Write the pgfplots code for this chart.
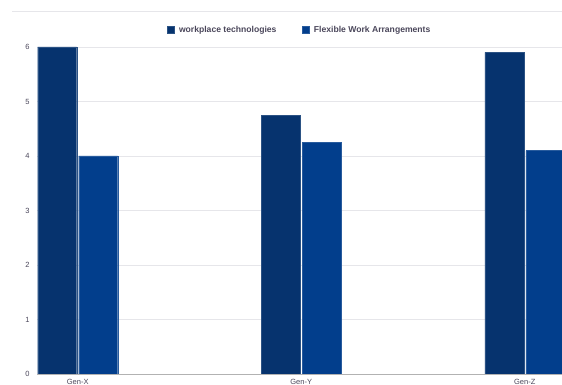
\documentclass[border=0pt]{standalone}
\usepackage{pgfplots}
\pgfplotsset{compat=1.18}
\usepackage{fontspec}
\setmainfont{Liberation Sans}
\definecolor{darknavy}{RGB}{6,51,110}
\definecolor{midblue}{RGB}{2,62,140}
\definecolor{gridc}{RGB}{230,230,234}
\definecolor{txtc}{RGB}{74,70,90}
\begin{document}
\begin{tikzpicture}[x=1pt,y=1pt]
\useasboundingbox (-37,-11) rectangle (525,374);
\clip (-37,-11) rectangle (525,374);
\draw[gridc, line width=0.8pt] (-25,363) -- (525,363);
\begin{axis}[
  at={(0,0)}, anchor=south west,
  scale only axis,
  width=525pt, height=327pt,
  xmin=-0.1823, xmax=2.1667,
  ymin=0, ymax=6,
  ybar, bar width=39pt,
  xtick={0,1,2}, xticklabels={Gen-X,Gen-Y,Gen-Z},
  ytick={0,1,2,3,4,5,6},
  ymajorgrids, grid style={gridc, line width=0.8pt},
  axis x line*=bottom, axis y line*=left,
  y axis line style={draw=none},
  x axis line style={draw=gray!60, line width=0.8pt},
  major tick length=0pt,
  tick label style={font=\fontsize{7.5}{8}\selectfont, text=txtc},
  xticklabel style={yshift=-2pt},
  yticklabel style={xshift=-4pt},
  /pgf/number format/assume math mode=true,
  legend style={at={(0.5,1.052)}, anchor=center, draw=none, fill=none,
    legend columns=2, font=\fontsize{8.6}{9}\selectfont\bfseries, text=txtc,
    /tikz/every even column/.append style={column sep=23pt},
    /tikz/every odd column/.append style={column sep=3pt}},
  legend image code/.code={\fill[#1] (0pt,-3pt) rectangle (7pt,4pt);},
]
\addplot[fill=darknavy, draw=darknavy!85!white, bar shift=-20.5pt] coordinates {(0,6) (1,4.75) (2,5.9)};
\addplot[fill=midblue, draw=midblue!85!white, bar shift=20.5pt] coordinates {(0,4) (1,4.25) (2,4.1)};
\legend{workplace technologies, Flexible Work Arrangements}
\end{axis}
\end{tikzpicture}
\end{document}
